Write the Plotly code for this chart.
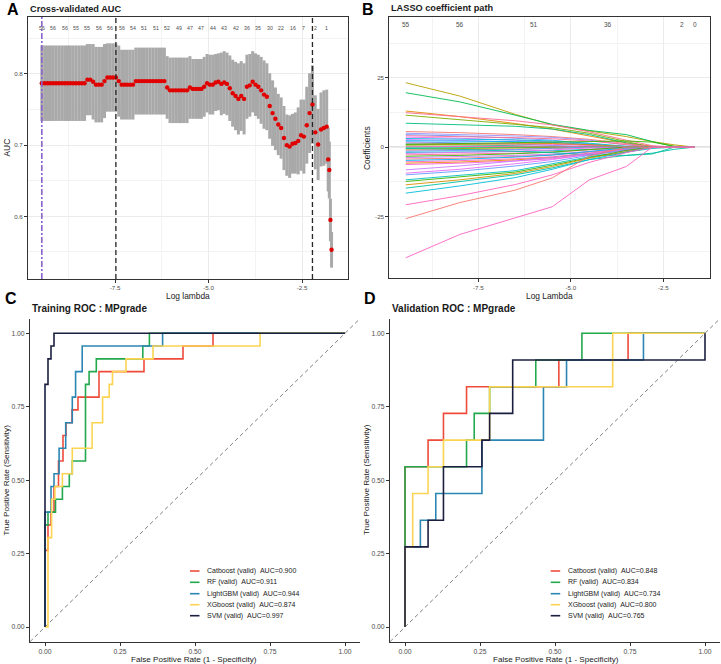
import plotly.graph_objects as go

# ---------------- Panel A : cross-validated AUC ----------------
log_lambda = [
    -9.460, -9.384, -9.308, -9.231, -9.155, -9.079, -9.003, -8.927, -8.850, -8.774,
    -8.698, -8.622, -8.546, -8.469, -8.393, -8.317, -8.241, -8.165, -8.088, -8.012,
    -7.936, -7.860, -7.784, -7.707, -7.631, -7.555, -7.479, -7.403, -7.326, -7.250,
    -7.174, -7.098, -7.022, -6.945, -6.869, -6.793, -6.717, -6.641, -6.564, -6.488,
    -6.412, -6.336, -6.260, -6.183, -6.107, -6.031, -5.955, -5.879, -5.802, -5.726,
    -5.650, -5.574, -5.498, -5.421, -5.345, -5.269, -5.193, -5.117, -5.040, -4.964,
    -4.888, -4.812, -4.736, -4.659, -4.583, -4.507, -4.431, -4.355, -4.278, -4.202,
    -4.126, -4.050, -3.974, -3.897, -3.821, -3.745, -3.669, -3.593, -3.516, -3.440,
    -3.364, -3.288, -3.212, -3.135, -3.059, -2.983, -2.907, -2.831, -2.754, -2.678,
    -2.602, -2.526, -2.450, -2.373, -2.297, -2.221, -2.145, -2.069, -1.992, -1.916,
    -1.840, -1.800, -1.770, -1.740, -1.710,
]
cv_auc = [
    0.787, 0.787, 0.787, 0.787, 0.787, 0.787, 0.787, 0.787, 0.787, 0.787,
    0.787, 0.787, 0.787, 0.787, 0.787, 0.787, 0.792, 0.792, 0.789, 0.785,
    0.785, 0.785, 0.790, 0.795, 0.795, 0.795, 0.795, 0.790, 0.785, 0.785,
    0.785, 0.785, 0.785, 0.790, 0.790, 0.790, 0.790, 0.790, 0.790, 0.790,
    0.790, 0.790, 0.790, 0.790, 0.781, 0.777, 0.777, 0.777, 0.777, 0.777,
    0.777, 0.777, 0.781, 0.779, 0.779, 0.779, 0.779, 0.782, 0.787, 0.785,
    0.785, 0.788, 0.789, 0.786, 0.788, 0.786, 0.780, 0.773, 0.769, 0.765,
    0.769, 0.765, 0.782, 0.784, 0.789, 0.785, 0.782, 0.777, 0.771, 0.768,
    0.755, 0.745, 0.737, 0.729, 0.724, 0.710, 0.700, 0.698, 0.702, 0.703,
    0.706, 0.714, 0.712, 0.728, 0.745, 0.757, 0.718, 0.701, 0.722, 0.724,
    0.726, 0.680, 0.665, 0.595, 0.553,
]
cv_se = [
    0.053, 0.053, 0.053, 0.053, 0.053, 0.053, 0.053, 0.053, 0.053, 0.053,
    0.053, 0.053, 0.053, 0.053, 0.053, 0.053, 0.050, 0.050, 0.053, 0.053,
    0.053, 0.053, 0.052, 0.048, 0.048, 0.048, 0.048, 0.050, 0.049, 0.049,
    0.049, 0.049, 0.049, 0.047, 0.047, 0.047, 0.047, 0.047, 0.047, 0.047,
    0.047, 0.047, 0.047, 0.047, 0.044, 0.046, 0.046, 0.046, 0.046, 0.046,
    0.046, 0.046, 0.044, 0.042, 0.042, 0.042, 0.042, 0.042, 0.041, 0.042,
    0.042, 0.040, 0.040, 0.044, 0.044, 0.044, 0.046, 0.047, 0.048, 0.050,
    0.049, 0.050, 0.045, 0.044, 0.043, 0.044, 0.045, 0.047, 0.048, 0.047,
    0.046, 0.046, 0.044, 0.043, 0.043, 0.045, 0.043, 0.044, 0.042, 0.043,
    0.047, 0.050, 0.052, 0.054, 0.056, 0.055, 0.052, 0.050, 0.052, 0.053,
    0.052, 0.045, 0.040, 0.030, 0.025,
]
nonzero_counts_A = [56, 56, 56, 55, 55, 56, 56, 56, 54, 51, 51, 52, 49,
                    47, 47, 44, 43, 42, 36, 35, 30, 22, 16, 7, 2, 1]
lambda_first = -9.460
lambda_min = -7.479
lambda_1se = -2.221

# ---------------- Panel B : LASSO coefficient path ----------------
coef_knots = [-9.46, -8.0, -6.5, -5.5, -4.5, -3.5, -2.8, -2.2, -1.65]
coef_paths = [
    [23.2, 18.4, 11.8, 8.0, 5.8, 3.8, 2.0, 0.8, 0.0],
    [19.6, 16.3, 11.5, 8.2, 6.0, 4.5, 2.0, 0.2, 0.0],
    [13.0, 11.0, 8.5, 6.5, 4.0, 1.5, 0.3, 0.0, 0.0],
    [12.4, 11.0, 9.5, 8.0, 5.5, 2.5, 0.5, 0.0, 0.0],
    [11.5, 10.0, 8.2, 7.0, 5.0, 2.0, 0.0, 0.0, 0.0],
    [8.6, 8.0, 7.5, 6.5, 4.5, 1.5, 0.0, 0.0, 0.0],
    [5.6, 5.2, 4.5, 3.8, 2.8, 1.2, 0.2, 0.0, 0.0],
    [5.0, 4.6, 4.0, 3.5, 2.5, 0.8, 0.0, 0.0, 0.0],
    [4.5, 4.0, 3.2, 2.5, 1.2, 0.0, 0.0, 0.0, 0.0],
    [4.1, 3.8, 3.4, 3.0, 2.2, 0.9, 0.1, 0.0, 0.0],
    [3.6, 3.2, 2.5, 1.8, 0.8, 0.0, 0.0, 0.0, 0.0],
    [3.1, 2.9, 2.6, 2.2, 1.4, 0.3, 0.0, 0.0, 0.0],
    [2.7, 2.4, 1.8, 1.2, 0.4, 0.0, 0.0, 0.0, 0.0],
    [2.3, 2.2, 2.0, 1.7, 1.0, 0.2, 0.0, 0.0, 0.0],
    [1.9, 1.6, 1.1, 0.6, 0.0, 0.0, 0.0, 0.0, 0.0],
    [1.5, 1.4, 1.3, 1.0, 0.6, 0.0, 0.0, 0.0, 0.0],
    [1.1, 0.9, 0.5, 0.1, 0.0, 0.0, 0.0, 0.0, 0.0],
    [0.8, 0.9, 1.2, 1.3, 0.9, 0.2, 0.0, 0.0, 0.0],
    [0.4, 0.3, 0.1, 0.0, 0.0, 0.0, 0.0, 0.0, 0.0],
    [0.1, 0.3, 0.5, 0.4, 0.1, 0.0, 0.0, 0.0, 0.0],
    [-0.3, -0.2, 0.0, 0.0, 0.0, 0.0, 0.0, 0.0, 0.0],
    [-0.7, -0.6, -0.4, -0.2, 0.0, 0.0, 0.0, 0.0, 0.0],
    [-1.1, -1.0, -0.8, -0.5, -0.2, 0.0, 0.0, 0.0, 0.0],
    [-1.5, -1.3, -0.9, -0.4, 0.0, 0.0, 0.0, 0.0, 0.0],
    [-1.9, -1.8, -1.6, -1.3, -0.8, -0.2, 0.0, 0.0, 0.0],
    [-2.3, -2.0, -1.5, -1.0, -0.3, 0.0, 0.0, 0.0, 0.0],
    [-2.8, -2.6, -2.2, -1.8, -1.0, -0.2, 0.0, 0.0, 0.0],
    [-3.3, -3.0, -2.4, -1.8, -0.9, 0.0, 0.0, 0.0, 0.0],
    [-3.8, -3.5, -3.0, -2.5, -1.6, -0.5, 0.0, 0.0, 0.0],
    [-4.3, -4.0, -3.4, -2.8, -1.8, -0.6, 0.0, 0.0, 0.0],
    [-4.8, -4.4, -3.6, -2.9, -1.6, -0.3, 0.0, 0.0, 0.0],
    [-5.3, -4.9, -4.2, -3.5, -2.2, -0.8, -0.1, 0.0, 0.0],
    [-5.8, -5.4, -4.6, -3.8, -2.4, -0.9, 0.0, 0.0, 0.0],
    [-6.3, -5.8, -5.0, -4.2, -2.8, -1.2, -0.2, 0.0, 0.0],
    [-0.5, -0.8, -1.5, -2.0, -2.8, -3.0, -2.2, -0.8, 0.0],
    [1.0, 1.2, 1.5, 1.8, 2.0, 2.2, 1.8, 0.3, 0.0],
    [-8.2, -6.8, -5.0, -3.8, -2.3, -0.8, 0.0, 0.0, 0.0],
    [-9.4, -8.0, -6.0, -4.5, -2.5, -1.0, 0.0, 0.0, 0.0],
    [-10.0, -8.7, -6.8, -5.2, -3.0, -1.0, 0.0, 0.0, 0.0],
    [-11.8, -10.2, -8.5, -6.0, -3.5, -1.8, -0.5, 0.0, 0.0],
    [-12.4, -10.8, -9.0, -6.5, -3.8, -1.2, 0.0, 0.0, 0.0],
    [-13.6, -11.8, -9.5, -7.0, -4.0, -1.5, 0.0, 0.0, 0.0],
    [-14.8, -12.5, -10.0, -7.5, -4.5, -3.0, -2.5, 0.0, 0.0],
    [-16.6, -14.0, -11.0, -8.0, -4.5, -2.0, 0.0, 0.0, 0.0],
    [-20.8, -17.5, -13.5, -10.0, -5.5, -2.0, 0.0, 0.0, 0.0],
    [-25.8, -20.0, -15.5, -11.1, -3.2, 0.0, 0.0, 0.0, 0.0],
    [-39.9, -31.5, -25.5, -21.5, -11.8, -7.0, 0.0, 0.0, 0.0],
]
coef_colors = [
    "#B79F00", "#00BB4E", "#E58700", "#FF6C91", "#7CAE00", "#00BF7D",
    "#F8766D", "#9590FF", "#619CFF", "#FF6C91", "#E76BF3", "#00BAE0",
    "#C77CFF", "#00B0F6", "#35A2FF", "#FF62BC", "#00C1A3", "#D89000",
    "#7CAE00", "#FA62DB", "#00BF7D", "#A3A500", "#F8766D", "#619CFF",
    "#00BFC4", "#E76BF3", "#FF6C91", "#39B600", "#C77CFF", "#F8766D",
    "#00B0F6", "#FF62BC", "#E58700", "#FA62DB", "#00C1A3", "#39B600",
    "#C77CFF", "#E76BF3", "#619CFF", "#00BFC4", "#39B600", "#D89000",
    "#00C1A3", "#00BCD8", "#FF62BC", "#F8766D", "#FF61C3",
]
df_label_lambda = [-9.46, -8.0, -6.0, -4.0, -2.0, -1.65]
df_label_counts = [55, 56, 51, 36, 2, 0]

# ---------------- Panels C / D : ROC curves ----------------
model_names = ["Catboost", "RF", "LightGBM", "XGboost", "SVM"]
model_colors = ["#EE4B3B", "#22A84D", "#2B86B3", "#FDD451", "#1B1F3F"]
train_auc = [0.900, 0.911, 0.944, 0.874, 0.997]
valid_auc = [0.848, 0.834, 0.734, 0.800, 0.765]

train_n_pos = 23
train_fpr = [
    [0, 0, 0.01, 0.02, 0.03, 0.045, 0.06, 0.07, 0.09, 0.11, 0.18, 0.33, 0.46, 0.56, 1.0],
    [0, 0, 0.01, 0.035, 0.058, 0.081, 0.091, 0.135, 0.147, 0.171, 0.326, 0.348, 1.0],
    [0, 0, 0.02, 0.03, 0.047, 0.069, 0.091, 0.102, 0.124, 0.392, 1.0],
    [0, 0.01, 0.022, 0.033, 0.058, 0.091, 0.157, 0.192, 0.214, 0.225, 0.27, 0.36, 0.717, 1.0],
    [0, 0, 0.01, 0.02, 0.03, 1.0],
]
train_tp = [
    [0, 6, 8, 9, 11, 13, 15, 16, 17, 18, 20, 21, 22, 23, 23],
    [0, 8, 9, 10, 11, 12, 13, 19, 20, 21, 22, 23, 23],
    [0, 9, 11, 12, 14, 16, 18, 20, 22, 23, 23],
    [0, 7, 10, 11, 12, 14, 16, 18, 19, 20, 21, 22, 23, 23],
    [0, 19, 21, 22, 23, 23],
]

valid_n_pos = 11
valid_n_neg = 39
valid_fp = [
    [0, 0, 3, 5, 8, 20, 29, 39],
    [0, 0, 8, 9, 11, 17, 23, 39],
    [0, 0, 2, 4, 10, 18, 21, 31, 39],
    [0, 0, 1, 3, 5, 11, 27, 39],
    [0, 0, 3, 5, 10, 11, 14, 39],
]
valid_tp = [
    [0, 6, 7, 8, 9, 10, 11, 11],
    [0, 6, 7, 8, 9, 10, 11, 11],
    [0, 3, 4, 5, 7, 9, 10, 11, 11],
    [0, 3, 5, 6, 7, 9, 11, 11],
    [0, 3, 4, 6, 7, 8, 10, 11],
]

# ---------------- figure ----------------
W, H = 721, 664
FONT = "Liberation Sans, Arial, sans-serif"


def px(x):
    return x / W


def py(y):
    return 1 - y / H


fig = go.Figure()

# Panel A traces
fig.add_trace(go.Scatter(
    x=log_lambda, y=cv_auc, mode="markers",
    marker=dict(color="#E00000", size=4.4, line=dict(width=0)),
    error_y=dict(type="data", array=cv_se, color="#A9A9A9", thickness=3.0, width=0),
    xaxis="x", yaxis="y", showlegend=False, hoverinfo="skip"))

# Panel B traces
for vals, col in zip(coef_paths, coef_colors):
    fig.add_trace(go.Scatter(
        x=coef_knots, y=vals, mode="lines",
        line=dict(color=col, width=0.9),
        xaxis="x2", yaxis="y2", showlegend=False, hoverinfo="skip"))

# Panel C traces
for fpr, tp, col in zip(train_fpr, train_tp, model_colors):
    fig.add_trace(go.Scatter(
        x=fpr, y=[t / train_n_pos for t in tp], mode="lines",
        line=dict(color=col, width=1.6, shape="hv"),
        xaxis="x3", yaxis="y3", showlegend=False, hoverinfo="skip"))

# Panel D traces
for fp, tp, col in zip(valid_fp, valid_tp, model_colors):
    fig.add_trace(go.Scatter(
        x=[f / valid_n_neg for f in fp], y=[t / valid_n_pos for t in tp], mode="lines",
        line=dict(color=col, width=1.6, shape="hv"),
        xaxis="x4", yaxis="y4", showlegend=False, hoverinfo="skip"))

tickfont_ab = dict(family=FONT, size=6.2, color="#4D4D4D")
tickfont_cd = dict(family=FONT, size=6.8, color="#4D4D4D")

frame_axis = dict(showline=True, mirror=True, linecolor="#333333", linewidth=1,
                  ticks="outside", ticklen=3, tickcolor="#333333", tickwidth=0.8,
                  showgrid=True, gridcolor="#EBEBEB", gridwidth=0.8, zeroline=False)

classic_axis = dict(showline=True, mirror=False, linecolor="#333333", linewidth=1,
                    ticks="outside", ticklen=3, tickcolor="#333333", tickwidth=0.8,
                    showgrid=False, zeroline=False, tickfont=tickfont_cd,
                    range=[-0.05, 1.05], tickvals=[0, 0.25, 0.5, 0.75, 1.0],
                    ticktext=["0.00", "0.25", "0.50", "0.75", "1.00"])

yA = [py(279), py(17)]
yB = [py(278.3), py(17)]
yCD = [py(641.7), py(318.6)]

fig.update_layout(
    width=W, height=H, margin=dict(l=0, r=0, t=0, b=0),
    paper_bgcolor="white", plot_bgcolor="white", showlegend=False,
    font=dict(family=FONT, color="#1A1A1A"),
    xaxis=dict(domain=[px(28), px(348)], anchor="y", range=[-9.83, -1.27],
               tickvals=[-7.5, -5.0, -2.5], ticktext=["-7.5", "-5.0", "-2.5"],
               tickfont=tickfont_ab,
               minor=dict(tickvals=[-8.75, -6.25, -3.75], showgrid=True,
                          gridcolor="#F3F3F3", gridwidth=0.5), **frame_axis),
    yaxis=dict(domain=yA, anchor="x", range=[0.512, 0.880],
               tickvals=[0.6, 0.7, 0.8], ticktext=["0.6", "0.7", "0.8"],
               tickfont=tickfont_ab,
               minor=dict(tickvals=[0.55, 0.65, 0.75, 0.85], showgrid=True,
                          gridcolor="#F3F3F3", gridwidth=0.5), **frame_axis),
    xaxis2=dict(domain=[px(389.3), px(710)], anchor="y2", range=[-9.905, -1.238],
                tickvals=[-7.5, -5.0, -2.5], ticktext=["-7.5", "-5.0", "-2.5"],
                tickfont=tickfont_ab,
                minor=dict(tickvals=[-8.75, -6.25, -3.75], showgrid=True,
                           gridcolor="#F3F3F3", gridwidth=0.5), **frame_axis),
    yaxis2=dict(domain=yB, anchor="x2", range=[-47.3, 46.9],
                tickvals=[-25, 0, 25], ticktext=["-25", "0", "25"],
                tickfont=tickfont_ab,
                minor=dict(tickvals=[-37.5, -12.5, 12.5, 37.5], showgrid=True,
                           gridcolor="#F3F3F3", gridwidth=0.5), **frame_axis),
    xaxis3=dict(domain=[px(30), px(360)], anchor="y3", **classic_axis),
    yaxis3=dict(domain=yCD, anchor="x3", **classic_axis),
    xaxis4=dict(domain=[px(390), px(720)], anchor="y4", **classic_axis),
    yaxis4=dict(domain=yCD, anchor="x4", **classic_axis),
)

shapes = []
# Panel A reference lines
shapes.append(dict(type="line", xref="x", yref="y domain", x0=lambda_first, x1=lambda_first,
                   y0=0, y1=1, line=dict(color="#8A63CC", width=1.6, dash="6px,2px,2px,2px")))
for xv in (lambda_min, lambda_1se):
    shapes.append(dict(type="line", xref="x", yref="y domain", x0=xv, x1=xv, y0=0, y1=1,
                       line=dict(color="#262626", width=1.3, dash="5px,3px")))
# Panel B zero line
shapes.append(dict(type="line", xref="x2 domain", yref="y2", x0=0, x1=1, y0=0, y1=0,
                   line=dict(color="#ABABAB", width=0.9), layer="below"))
# Panels C/D diagonal
for ax in ("3", "4"):
    shapes.append(dict(type="line", xref="x" + ax, yref="y" + ax, x0=-0.05, y0=-0.05,
                       x1=1.05, y1=1.05, line=dict(color="#808080", width=1, dash="4px,3px"),
                       layer="below"))

annotations = []


def ann(text, x, y, size, bold=False, xanchor="center", angle=0, color="#1A1A1A",
        xref="paper", yref="paper"):
    annotations.append(dict(text=("<b>%s</b>" % text) if bold else text, x=x, y=y,
                            xref=xref, yref=yref, xanchor=xanchor, yanchor="middle",
                            showarrow=False, textangle=angle,
                            font=dict(family=FONT, size=size, color=color)))


# Panel letters & titles
ann("A", px(13), py(9.5), 16, bold=True, color="#000000")
ann("Cross-validated AUC", px(28), py(9), 9.2, bold=True, xanchor="left")
ann("B", px(368), py(9.5), 16, bold=True, color="#000000")
ann("LASSO coefficient path", px(389), py(8), 9.2, bold=True, xanchor="left")
ann("C", px(11), py(298), 16, bold=True, color="#000000")
ann("Training ROC : MPgrade", px(30), py(308.5), 10, bold=True, xanchor="left")
ann("D", px(370), py(298), 16, bold=True, color="#000000")
ann("Validation ROC : MPgrade", px(390), py(308.5), 10, bold=True, xanchor="left")

# Axis titles
ann("Log lambda", px(188), py(296), 8.4)
ann("AUC", px(6.5), py(148), 8.4, angle=-90)
ann("Log Lambda", px(549.6), py(296), 8.4)
ann("Coefficients", px(367), py(148), 8.4, angle=-90)
ann("False Positive Rate (1 - Specificity)", px(194), py(659), 8.1)
ann("False Positive Rate (1 - Specificity)", px(555.5), py(659), 8.1)
ann("True Positive Rate (Sensitivity)", px(5.5), py(480), 8.1, angle=-90)
ann("True Positive Rate (Sensitivity)", px(366), py(480), 8.1, angle=-90)

# Top labels: number of nonzero coefficients
top_lambdas_A = [log_lambda[i] for i in range(0, 101, 4)]
for lv, n in zip(top_lambdas_A, nonzero_counts_A):
    ann(str(n), lv, 0.958, 5.2, color="#4D4D4D", xref="x", yref="y domain")
for lv, n in zip(df_label_lambda, df_label_counts):
    ann(str(n), lv, 0.9694, 6.5, color="#4D4D4D", xref="x2", yref="y2 domain")

# Manual legends for C and D
legend_rows = [571, 582.3, 593.7, 604.7, 615.7]
for (key_x0, text_x, aucs) in ((190, 205, train_auc), (550.7, 565.7, valid_auc)):
    for name, col, auc, ry in zip(model_names, model_colors, aucs, legend_rows):
        shapes.append(dict(type="line", xref="paper", yref="paper",
                           x0=px(key_x0), x1=px(key_x0 + 9.5), y0=py(ry), y1=py(ry),
                           line=dict(color=col, width=1.6)))
        ann("%s (valid)\u00a0\u00a0AUC=%.3f" % (name, auc), px(text_x), py(ry), 7,
            xanchor="left", color="#1A1A1A")

fig.update_layout(shapes=shapes, annotations=annotations)
fig.write_html("out.html")
